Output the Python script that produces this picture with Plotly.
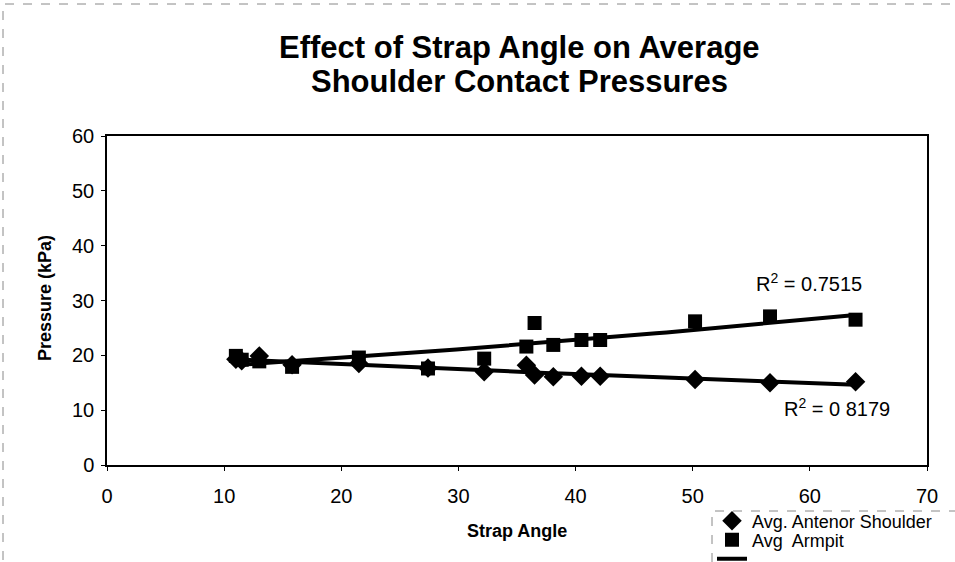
import numpy as np
import plotly.graph_objects as go

# ---- data ----
strap_angle = [11.0, 11.5, 13.0, 15.8, 21.5, 27.4, 32.2, 35.8, 36.5, 38.1, 40.5, 42.1, 50.2, 56.6, 63.9]
armpit = [19.9, 19.2, 18.9, 17.9, 19.6, 17.6, 19.4, 21.6, 25.9, 21.9, 22.8, 22.8, 26.2, 27.1, 26.5]
shoulder = [19.3, 19.0, 19.9, 18.3, 18.5, 17.7, 17.0, 18.2, 16.4, 16.1, 16.2, 16.2, 15.6, 15.0, 15.2]
x_ticks = [0, 10, 20, 30, 40, 50, 60, 70]
y_ticks = [0, 10, 20, 30, 40, 50, 60]
title_lines = ["Effect of Strap Angle on Average", "Shoulder Contact Pressures"]
r2_armpit = "R<sup>2</sup> = 0.7515"
r2_shoulder = "R<sup>2</sup> = 0 8179"

FONT = "Arial, Liberation Sans, Helvetica, sans-serif"

# exponential trendlines (Excel-style) fitted to the series
xs = np.array(strap_angle)
def expfit(y):
    b, ln_a = np.polyfit(xs, np.log(np.array(y)), 1)
    xx = np.linspace(xs.min(), xs.max(), 60)
    return xx, np.exp(ln_a) * np.exp(b * xx)

tx_a, ty_a = expfit(armpit)
tx_s, ty_s = expfit(shoulder)

fig = go.Figure()
fig.add_trace(go.Scatter(x=strap_angle, y=shoulder, mode="markers", name="Avg. Antenor Shoulder",
                         legend="legend",
                         marker=dict(symbol="diamond", size=15, color="black")))
fig.add_trace(go.Scatter(x=strap_angle, y=armpit, mode="markers", name="Avg  Armpit",
                         legend="legend2",
                         marker=dict(symbol="square", size=14, color="black")))
fig.add_trace(go.Scatter(x=tx_s, y=ty_s, mode="lines", name=" ", legend="legend3",
                         line=dict(color="black", width=4)))
fig.add_trace(go.Scatter(x=tx_a, y=ty_a, mode="lines", showlegend=False,
                         line=dict(color="black", width=4)))

L, R, T, B = 107, 28, 136, 97
W, H = 955, 562
pw, ph = W - L - R, H - T - B

def px(xp):
    return (xp - L) / pw

def py(yp):
    return (H - B - yp) / ph

def leg(ycenter):
    return dict(xref="container", yref="container", x=712 / W, y=1 - ycenter / H,
                xanchor="left", yanchor="middle", bgcolor="rgba(0,0,0,0)",
                font=dict(size=18, family=FONT, color="black"),
                itemwidth=30, borderwidth=0)

fig.update_layout(
    width=W, height=H,
    margin=dict(l=L, r=R, t=T, b=B, autoexpand=False),
    paper_bgcolor="white", plot_bgcolor="white",
    font=dict(family=FONT, color="black", size=18),
    showlegend=True,
    legend=leg(521), legend2=leg(540), legend3=leg(559),
    xaxis=dict(range=[0, 70], tickvals=x_ticks, ticks="outside", ticklen=4, tickwidth=1,
               tickcolor="black", showline=True, linecolor="black", linewidth=1.5, mirror=True,
               showgrid=False, zeroline=False, ticklabelstandoff=8,
               tickfont=dict(size=20, family=FONT, color="black")),
    yaxis=dict(range=[0, 60], tickvals=y_ticks, ticks="outside", ticklen=4, tickwidth=1,
               tickcolor="black", showline=True, linecolor="black", linewidth=1.5, mirror=True,
               showgrid=False, zeroline=False, ticklabelstandoff=3,
               tickfont=dict(size=20, family=FONT, color="black")),
    annotations=[
        dict(text="<b>" + title_lines[0] + "</b>", xref="paper", yref="paper", x=px(519), y=py(47),
             showarrow=False, xanchor="center", yanchor="middle",
             font=dict(size=31, family=FONT, color="black")),
        dict(text="<b>" + title_lines[1] + "</b>", xref="paper", yref="paper", x=px(519), y=py(82),
             showarrow=False, xanchor="center", yanchor="middle",
             font=dict(size=31, family=FONT, color="black")),
        dict(text="<b>Strap Angle</b>", xref="paper", yref="paper", x=px(517), y=py(531),
             showarrow=False, xanchor="center", yanchor="middle",
             font=dict(size=18, family=FONT, color="black")),
        dict(text="<b>Pressure (kPa)</b>", xref="paper", yref="paper", x=px(45), y=py(298),
             showarrow=False, xanchor="center", yanchor="middle", textangle=-90,
             font=dict(size=18, family=FONT, color="black")),
        dict(text=r2_armpit, x=59.9, y=33.2, xref="x", yref="y", showarrow=False,
             xanchor="center", yanchor="middle", font=dict(size=20, family=FONT, color="black")),
        dict(text=r2_shoulder, x=62.3, y=10.4, xref="x", yref="y", showarrow=False,
             xanchor="center", yanchor="middle", font=dict(size=20, family=FONT, color="black")),
    ],
    shapes=[
        dict(type="rect", xref="paper", yref="paper", x0=px(3), x1=px(965), y0=py(575), y1=py(4),
             line=dict(color="#888888", width=1, dash="dash"), layer="below"),
        dict(type="rect", xref="paper", yref="paper", x0=px(712), x1=px(965), y0=py(575), y1=py(511),
             line=dict(color="#888888", width=1, dash="dash"), layer="below"),
    ],
)

fig.write_html("out.html", config={"displayModeBar": False},
               post_script="document.body.style.margin='0px';")
